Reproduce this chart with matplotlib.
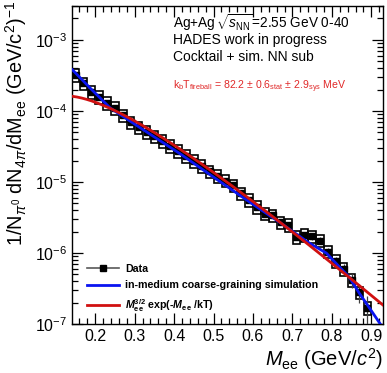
import numpy as np
import matplotlib
matplotlib.use("Agg")
import matplotlib.pyplot as plt
from matplotlib.patches import Rectangle
from matplotlib.lines import Line2D
from matplotlib.ticker import MultipleLocator, LogLocator

plt.rcParams['font.family'] = ['Liberation Sans', 'DejaVu Sans']
plt.rcParams['mathtext.fontset'] = 'custom'
plt.rcParams['mathtext.rm'] = 'Liberation Sans'
plt.rcParams['mathtext.it'] = 'Liberation Sans:italic'
plt.rcParams['mathtext.bf'] = 'Liberation Sans:bold'
plt.rcParams['mathtext.bfit'] = 'Liberation Sans:italic:bold'

# dielectron excess spectrum, 20 MeV bins
mass = [0.15, 0.17, 0.19, 0.21, 0.23, 0.25, 0.27, 0.29, 0.31, 0.33,
        0.35, 0.37, 0.39, 0.41, 0.43, 0.45, 0.47, 0.49, 0.51, 0.53,
        0.55, 0.57, 0.59, 0.61, 0.63, 0.65, 0.67, 0.69, 0.71, 0.73,
        0.75, 0.77, 0.79, 0.81, 0.83, 0.85, 0.87, 0.89]
yield_ee = [3.2e-4, 2.45e-4, 1.86e-4, 1.58e-4, 1.29e-4, 1.10e-4, 8.7e-5, 6.9e-5, 5.9e-5, 5.1e-5,
            4.4e-5, 3.8e-5, 3.25e-5, 2.75e-5, 2.35e-5, 2.0e-5, 1.7e-5, 1.42e-5, 1.22e-5, 1.05e-5,
            9.0e-6, 6.9e-6, 5.6e-6, 4.5e-6, 3.6e-6, 3.4e-6, 2.7e-6, 2.5e-6, 1.7e-6, 1.8e-6,
            1.72e-6, 1.5e-6, 1.05e-6, 7.8e-7, 6.0e-7, 4.2e-7, 2.8e-7, 1.7e-7]
stat_rel = [0.02, 0.02, 0.02, 0.02, 0.02, 0.02, 0.03, 0.03, 0.03, 0.03,
            0.03, 0.03, 0.04, 0.04, 0.04, 0.04, 0.05, 0.05, 0.05, 0.05,
            0.06, 0.06, 0.06, 0.07, 0.07, 0.08, 0.08, 0.09, 0.10, 0.10,
            0.10, 0.11, 0.12, 0.14, 0.16, 0.22, 0.30, 0.45]
sys_rel = 0.2

# coarse-graining model
cg_mass = [0.142, 0.187, 0.238, 0.314, 0.415, 0.503, 0.592, 0.668,
           0.743, 0.786, 0.819, 0.844, 0.870, 0.895, 0.923]
cg_yield = [3.8e-4, 2.1e-4, 1.1e-4, 5.8e-5, 2.5e-5, 1.14e-5, 5.2e-6, 2.7e-6,
            1.38e-6, 1.0e-6, 6.4e-7, 4.6e-7, 2.7e-7, 1.7e-7, 1.0e-7]

# thermal fit M^{3/2} exp(-M/kT)
kT = 0.0822
fit_norm = 0.0169
fit_range = (0.142, 0.93)

fig = plt.figure(figsize=(3.87, 3.73), dpi=100)
ax = fig.add_axes([0.186, 0.131, 0.804, 0.853])

m = np.array(mass)
y = np.array(yield_ee)
bw = 0.019
for mi, yi in zip(m, y):
    ax.add_patch(Rectangle((mi - bw / 2, yi * (1 - sys_rel)), bw, yi * 2 * sys_rel,
                           fill=False, ec='black', lw=1.2, zorder=3))
ax.errorbar(m, y, yerr=y * np.array(stat_rel), fmt='s', color='black', ms=3.8,
            ecolor='0.25', elinewidth=0.9, capsize=0, zorder=4)

ax.plot(cg_mass, cg_yield, color='#0a14f0', lw=2.0, zorder=5)

mf = np.linspace(*fit_range, 200)
ax.plot(mf, fit_norm * mf**1.5 * np.exp(-mf / kT), color='#d01010', lw=2.0, zorder=6)

ax.set_yscale('log')
ax.set_xlim(0.141, 0.93)
ax.set_ylim(1e-7, 3e-3)
ax.xaxis.set_major_locator(MultipleLocator(0.1))
ax.xaxis.set_minor_locator(MultipleLocator(0.02))
ax.yaxis.set_major_locator(LogLocator(base=10, numticks=10))
ax.yaxis.set_minor_locator(LogLocator(base=10, subs=np.arange(2, 10), numticks=20))
ax.tick_params(which='both', direction='in', top=True, right=True, width=0.9)
ax.tick_params(which='major', length=8, labelsize=11.5)
ax.tick_params(which='minor', length=4)
for s in ax.spines.values():
    s.set_linewidth(1.0)

ax.set_xlabel(r'$M_{\rm ee}$ (GeV/$c^2$)', fontsize=14.5, loc='right')
ax.xaxis.set_label_coords(1.0, -0.068)
ax.set_ylabel(r'1/N$_{\pi^0}$ dN$_{4\pi}$/dM$_{\rm ee}$ (GeV/c$^2$)$^{-1}$', fontsize=14.3, loc='top')
ax.yaxis.set_label_coords(-0.138, 1.018)

ax.text(0.325, 0.947, r'Ag+Ag$\,\sqrt{s_{\rm NN}}$=2.55 GeV 0-40', transform=ax.transAxes,
        fontsize=9.8, va='center')
ax.text(0.325, 0.893, 'HADES work in progress', transform=ax.transAxes, fontsize=10, va='center')
ax.text(0.325, 0.840, 'Cocktail + sim. NN sub', transform=ax.transAxes, fontsize=10, va='center')
ax.text(0.325, 0.745,
        r'k$_{\rm b}$T$_{\rm fireball}$ = 82.2 $\pm$ 0.6$_{\rm stat}$ $\pm$ 2.9$_{\rm sys}$ MeV',
        transform=ax.transAxes, fontsize=7.6, color='#e02828', va='center')

handles = [
    Line2D([], [], color='0.35', lw=1.2, marker='s', ms=4, mfc='black', mec='black'),
    Line2D([], [], color='#0a14f0', lw=2.0),
    Line2D([], [], color='#d01010', lw=2.0),
]
labels = ['Data', 'in-medium coarse-graining simulation',
          r'$\mathbfit{M}_{\mathbf{ee}}^{\mathbf{3/2}}$ exp(-$\mathbfit{M}_{\mathbf{ee}}$ /kT)']
leg = ax.legend(handles, labels, loc='lower left', bbox_to_anchor=(0.048, 0.033),
                frameon=False, handlelength=3.0, handletextpad=0.6, labelspacing=0.6,
                borderpad=0, borderaxespad=0, prop={'size': 7.7, 'weight': 'bold'})

fig.savefig('out.png', dpi=100)
